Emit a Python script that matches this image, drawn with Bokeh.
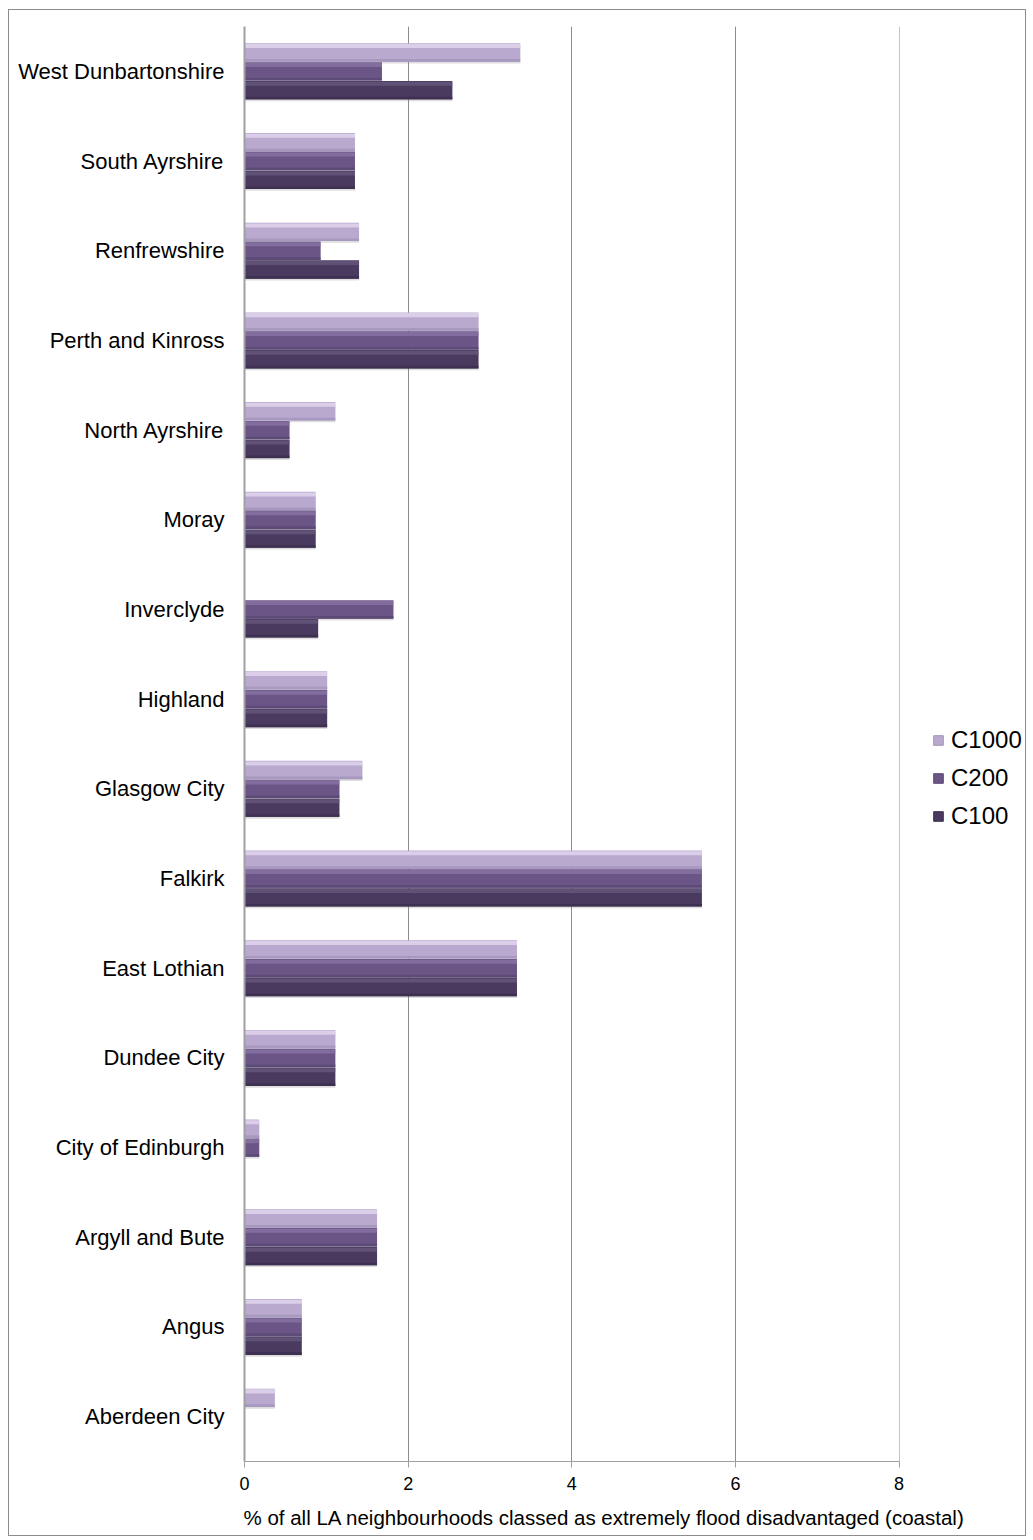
from bokeh.plotting import figure
from bokeh.layouts import row, column
from bokeh.models import (FactorRange, Range1d, ColumnDataSource, Legend, LegendItem,
                          FixedTicker, Label)
from bokeh.transform import dodge
from bokeh.embed import file_html
from bokeh.resources import INLINE

# Categories listed top to bottom as in the chart
categories = ["West Dunbartonshire", "South Ayrshire", "Renfrewshire", "Perth and Kinross",
              "North Ayrshire", "Moray", "Inverclyde", "Highland", "Glasgow City", "Falkirk",
              "East Lothian", "Dundee City", "City of Edinburgh", "Argyll and Bute", "Angus",
              "Aberdeen City"]
c1000 = [3.37, 1.35, 1.40, 2.86, 1.11, 0.87, 0.00, 1.01, 1.44, 5.59, 3.33, 1.11, 0.18, 1.62, 0.70, 0.37]
c200 = [1.68, 1.35, 0.93, 2.86, 0.55, 0.87, 1.82, 1.01, 1.16, 5.59, 3.33, 1.11, 0.18, 1.62, 0.70, 0.00]
c100 = [2.54, 1.35, 1.40, 2.86, 0.55, 0.87, 0.90, 1.01, 1.16, 5.59, 3.33, 1.11, 0.00, 1.62, 0.70, 0.00]
series_names = ["C1000", "C200", "C100"]
x_ticks = [0, 2, 4, 6, 8]
x_label = "% of all LA neighbourhoods classed as extremely flood disadvantaged (coastal)"

FONT = "Liberation Sans"

source = ColumnDataSource(dict(cat=categories, C1000=c1000, C200=c200, C100=c100))

styles = {
    "C1000": dict(main="#b9a9cf", hi="#e6dbf0", lo="#a393ba", off=0.21),
    "C200": dict(main="#6b5587", hi="#8a76a6", lo="#5a4873", off=0.0),
    "C100": dict(main="#4a3a5f", hi="#68597f", lo="#3b2e4d", off=-0.21),
}

# ---------------- main chart ----------------
p = figure(width=913, height=1490,
           y_range=FactorRange(factors=list(reversed(categories)), range_padding=0),
           x_range=Range1d(0, 8.005),
           output_backend="svg", toolbar_location=None,
           min_border_left=235, min_border_right=23, min_border_top=16, min_border_bottom=39)
p.outline_line_color = None
p.background_fill_color = "white"
p.border_fill_color = "white"

bar_h = 0.205
for name in series_names:
    s = styles[name]
    # soft shadow
    p.hbar(y=dodge("cat", s["off"] - 0.02, range=p.y_range), left=0,
           right=name, height=bar_h, source=source,
           fill_color="#7a7a7a", fill_alpha=0.25, line_color=None)
    p.hbar(y=dodge("cat", s["off"], range=p.y_range), left=0, right=name,
           height=bar_h, source=source, fill_color=s["main"], line_color=None)
    # top highlight
    p.hbar(y=dodge("cat", s["off"] + 0.072, range=p.y_range), left=0, right=name,
           height=0.045, source=source, fill_color=s["hi"], fill_alpha=0.75, line_color=None)
    # bottom darker edge
    p.hbar(y=dodge("cat", s["off"] - 0.088, range=p.y_range), left=0, right=name,
           height=0.03, source=source, fill_color=s["lo"], fill_alpha=0.8, line_color=None)

p.xaxis.ticker = FixedTicker(ticks=x_ticks)
p.xaxis.major_label_text_font = FONT
p.xaxis.major_label_text_font_size = "18px"
p.xaxis.major_label_text_color = "black"
p.xaxis.major_label_standoff = 9
p.xaxis.axis_line_color = "#a0a0a0"
p.xaxis.major_tick_line_color = "#a0a0a0"
p.xaxis.major_tick_out = 6
p.xaxis.major_tick_in = 0
p.xaxis.minor_tick_line_color = None

p.yaxis.axis_line_color = "#a0a0a0"
p.yaxis.axis_line_width = 2
p.yaxis.major_tick_line_color = None
p.yaxis.minor_tick_line_color = None
p.yaxis.major_label_text_font = FONT
p.yaxis.major_label_text_font_size = "22px"
p.yaxis.major_label_text_color = "black"
p.yaxis.major_label_standoff = 14

p.xgrid.grid_line_color = "#8c8c8c"
p.ygrid.grid_line_color = None

# ---------------- legend panel ----------------
lf = figure(width=103, height=1490, x_range=Range1d(0, 1), y_range=Range1d(0, 1),
            output_backend="svg", toolbar_location=None,
            x_axis_location=None, y_axis_location=None, min_border=0)
lf.outline_line_color = None
lf.xgrid.grid_line_color = None
lf.ygrid.grid_line_color = None
items = []
for name in series_names:
    s = styles[name]
    r = lf.rect(x=[-5], y=[-5], width=1, height=1, fill_color=s["main"], line_color=s["lo"])
    items.append(LegendItem(label=name, renderers=[r]))
legend = Legend(items=items, location=(10, 630), orientation="vertical",
                glyph_width=12, glyph_height=12, label_height=30, spacing=8,
                padding=0, margin=0, border_line_color=None, background_fill_alpha=0,
                label_text_font=FONT, label_text_font_size="24px", label_text_color="black",
                label_standoff=7)
lf.add_layout(legend, "center")

# ---------------- x-axis title strip ----------------
bf = figure(width=1016, height=35, x_range=Range1d(0, 1016), y_range=Range1d(0, 35),
            output_backend="svg", toolbar_location=None,
            x_axis_location=None, y_axis_location=None, min_border=0)
bf.outline_line_color = None
bf.xgrid.grid_line_color = None
bf.ygrid.grid_line_color = None
bf.add_layout(Label(x=234, y=18, text=x_label, text_baseline="middle", text_align="left",
                    text_font=FONT, text_font_size="20.5px", text_color="black"))

layout = column(row(p, lf), bf, margin=(9, 0, 0, 8),
                styles={"border": "1px solid #8c8c8c"})

open("out.html", "w").write(file_html(layout, INLINE))
